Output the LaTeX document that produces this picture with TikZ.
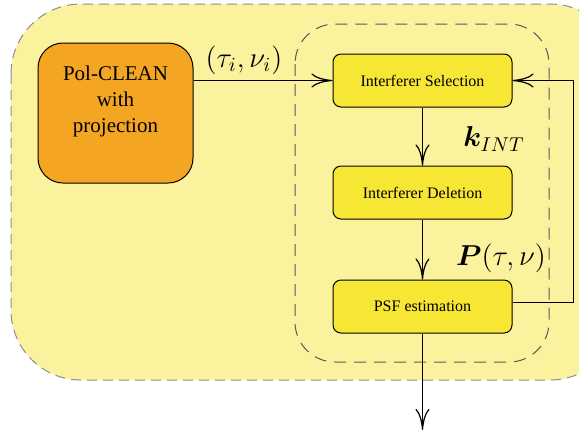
\documentclass[tikz,border=0pt]{standalone}
\usepackage{fontspec}
\setmainfont{Liberation Serif}
\usepackage{bm}
\usetikzlibrary{arrows.meta}
\definecolor{panelfill}{HTML}{FBF29E}
\definecolor{stagefill}{HTML}{F7E734}
\definecolor{cleanfill}{HTML}{F4A623}
\tikzset{
  stagebox/.style={draw=black, line width=0.5pt, fill=stagefill, rounded corners=4pt,
    minimum width=89.5pt, minimum height=26.5pt, inner sep=0pt,
    font=\fontsize{8}{9}\selectfont},
  flow/.style={line width=0.5pt, -{Computer Modern Rightarrow[length=10.5pt,width=7pt,line width=0.6pt]}},
  mathlabel/.style={font=\fontsize{14}{16}\selectfont, inner sep=0pt},
}
\begin{document}
\begin{tikzpicture}[x=0.5pt,y=-0.5pt]
\clip (0,0) rectangle (579,436);
\useasboundingbox (0,0) rectangle (579,436);
% outer panel
\draw[fill=panelfill, draw=black!45, dash pattern=on 5pt off 3pt, line width=0.5pt, rounded corners=35pt]
  (11,4) rectangle (620,380);
% inner loop region
\draw[draw=black!65, dash pattern=on 6pt off 4pt, line width=0.5pt, rounded corners=20pt]
  (295,24) rectangle (549,362);
% Pol-CLEAN block
\node[draw=black, line width=0.5pt, fill=cleanfill, rounded corners=12.5pt,
  minimum width=77.5pt, minimum height=70pt, inner sep=0pt] (pc) at (115.5,113) {};
\node[align=center, font=\fontsize{10.5}{13}\selectfont] (pctext) at (115.5,101)
  {Pol-CLEAN\\with\\projection};
% loop stages
\node[stagebox] (sel) at (422.5,80.5) {Interferer Selection};
\node[stagebox] (del) at (422.5,192.5) {Interferer Deletion};
\node[stagebox] (psf) at (422.5,306.5) {PSF estimation};
\coordinate (corner1) at (573,302);
\coordinate (corner2) at (573,80.5);
\coordinate (out) at (422.5,430);
% connectors
\draw[flow] (pc.east |- sel.west) -- (sel.west);
\draw[flow] (sel) -- (del);
\draw[flow] (del) -- (psf);
\draw[flow] (psf.east |- corner1) -- (corner1) -- (corner2) -- (sel.east);
\draw[flow] (psf) -- (out);
% labels
\node[mathlabel] (lab1) at (244,60) {$(\tau_i,\nu_i)$};
\node[mathlabel] (lab2) at (494,139) {$\bm{k}_{INT}$};
\node[mathlabel] (lab3) at (501,258) {$\bm{P}(\tau,\nu)$};
\end{tikzpicture}
\end{document}
